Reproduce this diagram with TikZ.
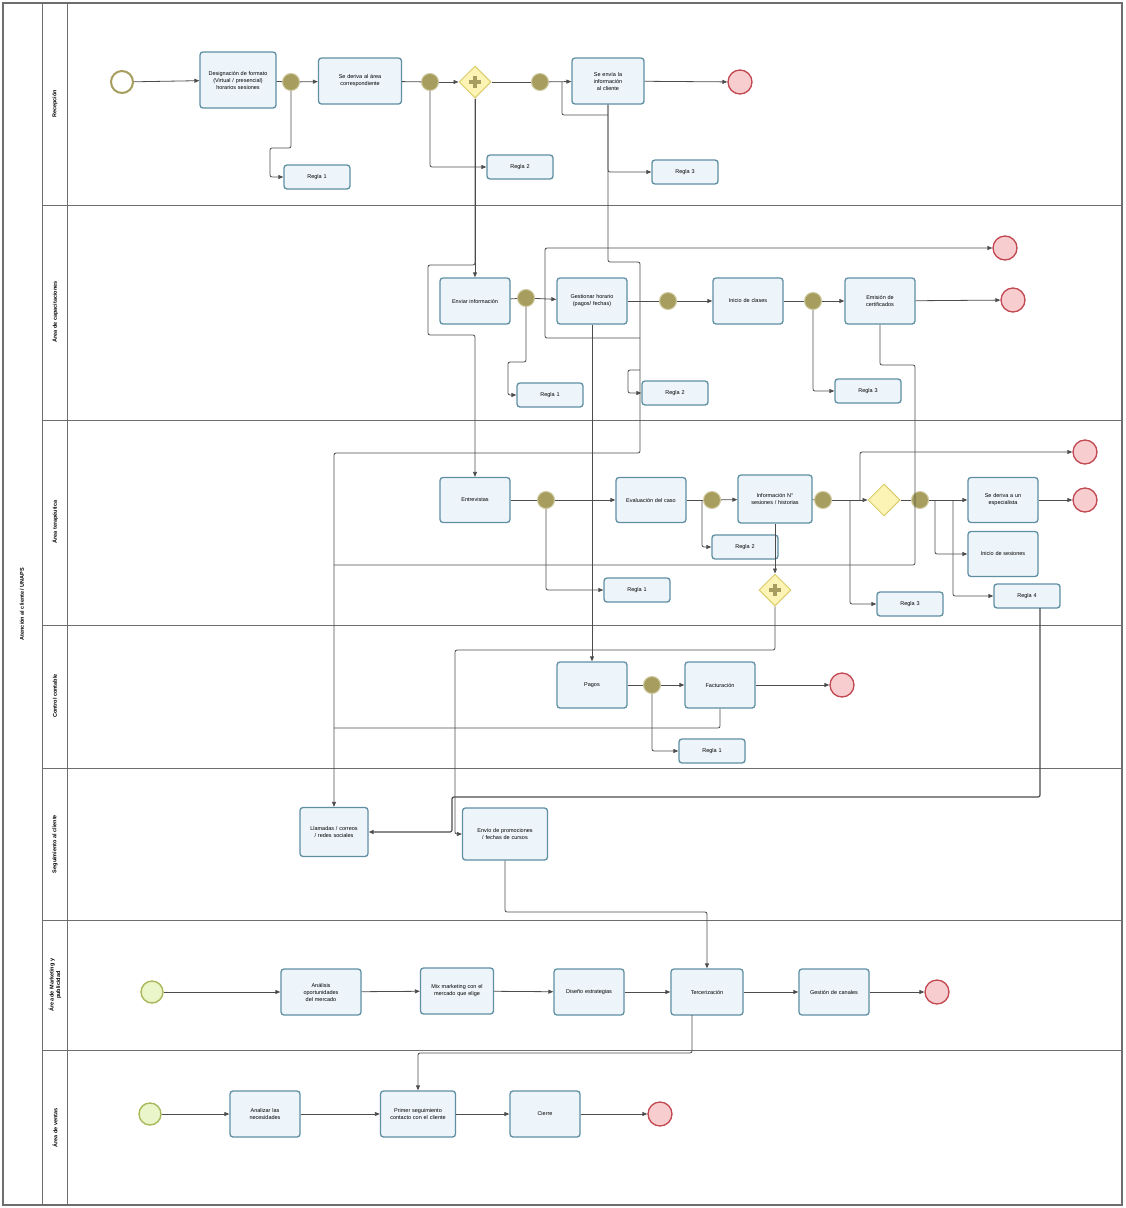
\documentclass[tikz,border=0pt]{standalone}
\usepackage{fontspec}
\setmainfont{Liberation Sans}
\usetikzlibrary{shapes.geometric,arrows.meta}

\hyphenpenalty=10000
\exhyphenpenalty=10000

\definecolor{taskfill}{HTML}{EDF5FA}
\definecolor{taskline}{HTML}{5F8FA3}
\definecolor{startline}{HTML}{A8B85A}
\definecolor{startfill}{HTML}{EAF5C9}
\definecolor{endline}{HTML}{C2474F}
\definecolor{endfill}{HTML}{F7CDD0}
\definecolor{evfill}{HTML}{A69D5E}
\definecolor{evline}{HTML}{CFC9A0}
\definecolor{gwfill}{HTML}{FBF4B4}
\definecolor{gwline}{HTML}{D9CC6A}
\definecolor{poolline}{HTML}{6E6E6E}

\begin{document}
\begin{tikzpicture}[x=1pt, y=-1pt,
	task/.style={draw=taskline, fill=taskfill, line width=1.3pt, rounded corners=3pt,
		minimum width=70pt, minimum height=46pt, align=center, text width=52pt, inner sep=1pt,
		font=\fontsize{5.5}{7}\selectfont},
	regla/.style={task, minimum width=66pt, minimum height=24pt},
	startev/.style={circle, draw=startline, fill=startfill, line width=1.4pt, minimum size=22pt, inner sep=0pt},
	endev/.style={circle, draw=endline, fill=endfill, line width=1.3pt, minimum size=24pt, inner sep=0pt},
	ruleev/.style={circle, fill=evfill, draw=evline, line width=1pt, minimum size=17pt, inner sep=0pt},
	gateway/.style={diamond, draw=gwline, fill=gwfill, line width=1pt, minimum size=32pt, inner sep=0pt},
	pargw/.style={gateway, path picture={
		\draw[evfill, line width=3.5pt] ([xshift=-6pt]path picture bounding box.center) -- ++(12pt,0)
			([yshift=-6pt]path picture bounding box.center) -- ++(0,12pt);}},
	flow/.style={draw=black!70, line width=0.8pt, rounded corners=2pt, -{Triangle[length=5pt,width=4pt]}},
	line/.style={draw=black!70, line width=0.8pt, rounded corners=2pt},
	lanelabel/.style={rotate=90, align=center, font=\fontsize{5.5}{6.5}\selectfont\bfseries}]

	\useasboundingbox (0,0) rectangle (1125,1208);

	%Pool y carriles
	\draw[poolline, line width=1.2pt] (3,3) rectangle (1122,1205);
	\draw[poolline, line width=1pt] (42,3) -- (42,1205);
	\draw[poolline, line width=1pt] (67,3) -- (67,1205);
	\foreach \y in {205,420,625,768,920,1050} {
		\draw[poolline, line width=1pt] (42,\y) -- (1122,\y);
	}
	\node[lanelabel] (pool) at (22,604) {Atención al cliente / UNAPS};
	\foreach \n/\y/\t in {l1/104/Recepción, l2/312/Área de capacitaciones, l3/522/Área terapéutica,
		l4/696/Control contable, l5/844/Seguimiento al cliente, l6/985/{Área de Marketing y\\ publicidad},
		l7/1128/Área de ventas} {
		\node[lanelabel] (\n) at (55,\y) {\t};
	}

	%Recepción
	\node[startev, fill=white, draw=evfill, line width=2pt] (s1) at (122,82) {};
	\node[task, minimum width=76pt, minimum height=56pt, text width=60pt] (disen) at (238,80) {Designación de formato (Virtual / presencial) horarios sesiones};
	\node[ruleev] (e1) at (291,82) {};
	\node[task, minimum width=83pt, text width=64pt] (deriva) at (360,81) {Se deriva al área correspondiente};
	\node[ruleev] (e2) at (430,82) {};
	\node[pargw] (g1) at (475,82) {};
	\node[ruleev] (e3) at (540,82) {};
	\node[task, minimum width=72pt] (envia) at (608,81) {Se envía la información al cliente};
	\node[endev] (end1) at (740,82) {};

	%Área de capacitaciones
	\node[task] (enviar) at (475,301) {Enviar información};
	\node[ruleev] (e4) at (526,298) {};
	\node[task] (gest) at (592,301) {Gestionar horario (pagos/ fechas)};
	\node[ruleev] (e5) at (668,301) {};
	\node[task, text width=60pt] (inicio) at (748,301) {Inicio de clases};
	\node[ruleev] (e6) at (813,301) {};
	\node[task] (cert) at (880,301) {Emisión de certificados};
	\node[endev] (end2a) at (1005,248) {};
	\node[endev] (end2b) at (1013,300) {};

	%Área terapéutica
	\node[task, minimum height=45pt] (entrev) at (475,500) {Entrevistas};
	\node[ruleev] (e7) at (546,500) {};
	\node[task, minimum height=45pt] (eval) at (651,500) {Evaluación del caso};
	\node[ruleev] (e8) at (712,500) {};
	\node[task, minimum width=74pt, minimum height=48pt] (info) at (775,499) {Información N° sesiones / historias};
	\node[ruleev] (e9) at (823,500) {};
	\node[gateway] (g2) at (884,500) {};
	\node[ruleev] (e10) at (920,500) {};
	\node[task, minimum height=45pt] (esp) at (1003,500) {Se deriva a un especialista};
	\node[task, minimum height=45pt] (ses) at (1003,554) {Inicio de sesiones};
	\node[pargw] (g3) at (775,590) {};
	\node[endev] (end3a) at (1085,452) {};
	\node[endev] (end3b) at (1085,500) {};

	%Control contable
	\node[task] (pagos) at (592,685) {Pagos};
	\node[ruleev] (e11) at (652,685) {};
	\node[task] (fact) at (720,685) {Facturación};
	\node[endev] (end4) at (842,685) {};

	%Seguimiento
	\node[task, minimum width=68pt, minimum height=49pt] (llam) at (334,832) {Llamadas / correos / redes sociales};
	\node[task, minimum width=85pt, minimum height=52pt, text width=62pt] (envio) at (505,834) {Envío de promociones / fechas de cursos};

	%Marketing
	\node[startev] (s6) at (152,992) {};
	\node[task, minimum width=80pt] (anal) at (321,992) {Análisis oportunidades del mercado};
	\node[task, minimum width=73pt] (mix) at (457,991) {Mix marketing con el mercado que elige};
	\node[task] (dise) at (589,992) {Diseño estrategias};
	\node[task, minimum width=72pt] (terc) at (707,992) {Tercerización};
	\node[task] (gcan) at (834,992) {Gestión de canales};
	\node[endev] (end6) at (937,992) {};

	%Ventas
	\node[startev] (s7) at (150,1114) {};
	\node[task] (necs) at (265,1114) {Analizar las necesidades};
	\node[task, minimum width=75pt, text width=58pt] (segui) at (418,1114) {Primer seguimiento contacto con el cliente};
	\node[task] (cierre) at (545,1114) {Cierre};
	\node[endev] (end7) at (660,1114) {};

	%Reglas
	\foreach \n/\x/\y/\t in {r1a/317/177/1, r2a/520/167/2, r3a/685/172/3, r1b/550/395/1, r2b/675/393/2,
		r3b/868/391/3, r1c/637/590/1, r2c/745/547/2, r3c/910/604/3, r4c/1027/596/4, r1d/712/751/1} {
		\node[regla] (\n) at (\x,\y) {Regla \t};
	}

	%Flujos Recepción
	\draw[flow] (s1) -- (disen);
	\draw[line] (disen) -- (e1);
	\draw[flow] (e1) -- (deriva);
	\draw[flow] (e1.south) -- (291,148) -- (270,148) |- (r1a.west);
	\draw[line] (deriva) -- (e2);
	\draw[flow] (e2) -- (g1);
	\draw[flow] (e2.south) |- (r2a.west);
	\draw[line] (g1) -- (e3);
	\draw[flow] (e3) -- (envia);
	\draw[line] (562,82) -- (562,115) -- (608,115);
	\draw[flow] (envia.south) |- (r3a.west);
	\draw[flow] (envia) -- (end1);
	\draw[flow] (g1) -- (enviar);
	\draw[flow] (g1.south) -- (475,265) -- (428,265) -- (428,335) -- (475,335) -- (entrev);
	\draw[flow] (envia.south) -- (608,262) -- (640,262) -- (640,453) -- (334,453) -- (llam);

	%Flujos capacitaciones
	\draw[line] (enviar) -- (e4);
	\draw[flow] (e4) -- (gest);
	\draw[flow] (e4.south) -- (526,362) -- (508,362) |- (r1b.west);
	\draw[line] (gest) -- (e5);
	\draw[flow] (e5) -- (inicio);
	\draw[flow] (640,338) -- (545,338) -- (545,248) -- (end2a);
	\draw[flow] (640,370) -- (628,370) |- (r2b.west);
	\draw[line] (inicio) -- (e6);
	\draw[flow] (e6) -- (cert);
	\draw[flow] (e6.south) |- (r3b.west);
	\draw[flow] (cert) -- (end2b);
	\draw[line] (cert.south) -- (880,365) -- (915,365) -- (915,565) -- (334,565);
	\draw[flow] (gest) -- (pagos);

	%Flujos terapéutica
	\draw[line] (entrev) -- (e7);
	\draw[flow] (e7) -- (eval);
	\draw[flow] (e7.south) |- (r1c.west);
	\draw[line] (eval) -- (e8);
	\draw[flow] (e8) -- (info);
	\draw[flow] (702,500) |- (r2c.west);
	\draw[line] (info) -- (e9);
	\draw[flow] (e9) -- (g2);
	\draw[flow] (860,500) |- (end3a);
	\draw[flow] (850,500) |- (r3c.west);
	\draw[line] (g2) -- (e10);
	\draw[flow] (e10) -- (esp);
	\draw[flow] (935,500) |- (ses.west);
	\draw[flow] (953,500) |- (r4c.west);
	\draw[flow] (esp) -- (end3b);
	\draw[flow] (info) -- (g3);
	\draw[flow] (g3.south) |- (455,650) |- (envio.west);
	\draw[flow, line width=1.2pt] (1040,608) -- (1040,797) -- (452,797) -- (452,832) -- (llam.east);

	%Flujos contable
	\draw[line] (pagos) -- (e11);
	\draw[flow] (e11) -- (fact);
	\draw[flow] (e11.south) |- (r1d.west);
	\draw[flow] (fact) -- (end4);
	\draw[line] (fact.south) -- (720,728) -- (334,728);

	%Flujos seguimiento y marketing
	\draw[flow] (envio.south) -- (505,912) -- (707,912) -- (terc);
	\draw[flow] (s6) -- (anal);
	\draw[flow] (anal) -- (mix);
	\draw[flow] (mix) -- (dise);
	\draw[flow] (dise) -- (terc);
	\draw[flow] (terc) -- (gcan);
	\draw[flow] (gcan) -- (end6);
	\draw[flow] (692,1015) -- (692,1053) -- (418,1053) -- (segui);

	%Flujos ventas
	\draw[flow] (s7) -- (necs);
	\draw[flow] (necs) -- (segui);
	\draw[flow] (segui) -- (cierre);
	\draw[flow] (cierre) -- (end7);
\end{tikzpicture}
\end{document}
